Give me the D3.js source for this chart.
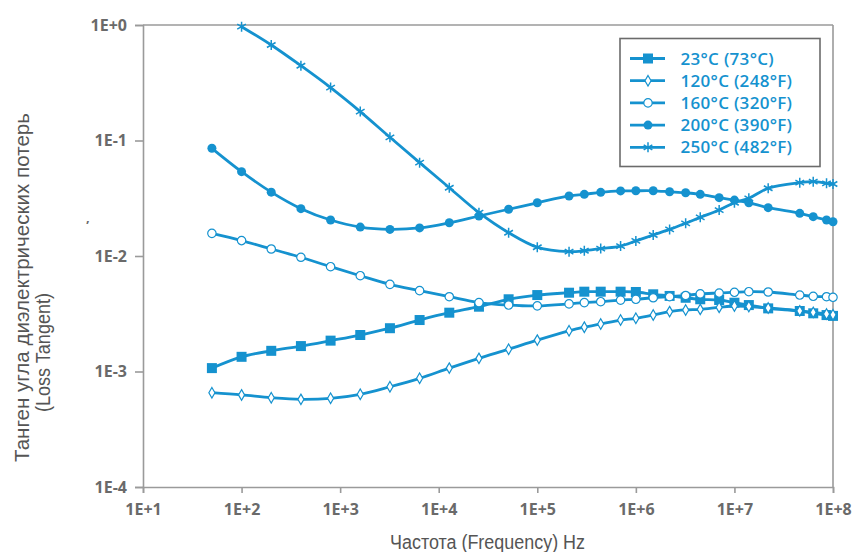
<!DOCTYPE html>
<html>
<head>
<meta charset="utf-8">
<script src="https://cdn.jsdelivr.net/npm/d3@7"></script>
<style>
  body { margin: 0; background: #fff; }
</style>
</head>
<body>
<div id="chart"></div>
<script>
// Frequency grid (Hz) shared by all series
var freq = [50, 100, 200, 400, 800, 1600, 3200, 6400, 12800, 25600, 51200,
    1e5, 2.1e5, 3e5, 4.4e5, 7e5, 1e6, 1.5e6, 2.2e6, 3.2e6, 4.5e6, 7e6,
    1e7, 1.4e7, 2.2e7, 4.6e7, 6.3e7, 8.6e7, 1e8];

// Loss tangent values
var t23 = [0.00107, 0.00134, 0.00151, 0.00166, 0.00185, 0.00207, 0.00237, 0.00279, 0.00323, 0.00364, 0.00422,
    0.00459, 0.00481, 0.00491, 0.00491, 0.00491, 0.00488, 0.00466, 0.00451, 0.00435, 0.00422, 0.00416,
    0.00394, 0.00376, 0.00352, 0.00334, 0.00319, 0.00308, 0.00303];
var t120 = [0.000655, 0.000627, 0.000593, 0.000574, 0.000586, 0.000635, 0.000738, 0.000873, 0.00107, 0.0013, 0.00156,
    0.00187, 0.00225, 0.00242, 0.00258, 0.00279, 0.00289, 0.00308, 0.0033, 0.00341, 0.00345, 0.00359,
    0.00369, 0.00365, 0.00355, 0.00335, 0.00325, 0.00315, 0.0031];
var t160 = [0.0157, 0.0136, 0.0115, 0.00975, 0.00808, 0.00675, 0.00568, 0.00501, 0.00444, 0.00395, 0.00376,
    0.0037, 0.00385, 0.00395, 0.00402, 0.00415, 0.00422, 0.00435, 0.00444, 0.00455, 0.0047, 0.00478,
    0.00485, 0.00491, 0.00488, 0.00459, 0.00448, 0.00444, 0.00439];
var t200 = [0.0856, 0.0537, 0.0357, 0.0257, 0.0205, 0.0178, 0.017, 0.0175, 0.0194, 0.0222, 0.0254,
    0.0289, 0.0331, 0.0342, 0.0356, 0.0366, 0.0367, 0.0367, 0.036, 0.0353, 0.0342, 0.032,
    0.0305, 0.0289, 0.0262, 0.0234, 0.0219, 0.0205, 0.0198];
var t250 = [null, 0.967, 0.671, 0.444, 0.287, 0.178, 0.1066, 0.0643, 0.039, 0.0237, 0.0159,
    0.0119, 0.0109, 0.0111, 0.0116, 0.0122, 0.0135, 0.0152, 0.017, 0.0192, 0.0216, 0.025,
    0.0289, 0.0316, 0.0386, 0.0431, 0.044, 0.0426, 0.042];

var seriesNames = ["23°C (73°C)", "120°C (248°F)", "160°C (320°F)", "200°C (390°F)", "250°C (482°F)"];
var seriesMarkers = ["square", "diamond", "circleOpen", "circle", "asterisk"];

var xTicks = [1e1, 1e2, 1e3, 1e4, 1e5, 1e6, 1e7, 1e8];
var xTickLabels = ["1E+1", "1E+2", "1E+3", "1E+4", "1E+5", "1E+6", "1E+7", "1E+8"];
var yTicks = [1, 1e-1, 1e-2, 1e-3, 1e-4];
var yTickLabels = ["1E+0", "1E-1", "1E-2", "1E-3", "1E-4"];

// Chart size and margins
var svgWidth = 856;
var svgHeight = 552;
var margin = { top: 25, right: 23, bottom: 65, left: 143 };
var width = svgWidth - margin.left - margin.right;
var height = svgHeight - margin.top - margin.bottom;

var blue = "#1592cf";
var axisGrey = "#9a9a9a";
var tickGrey = "#6a6a6a";
var titleGrey = "#555";
var narrowFont = "'Liberation Sans', Arial, sans-serif";

var svg = d3.select("#chart")
    .append("svg")
    .attr("width", svgWidth)
    .attr("height", svgHeight);

var chartGroup = svg.append("g")
    .attr("transform", `translate(${margin.left}, ${margin.top})`);

var xScale = d3.scaleLog().domain([1e1, 1e8]).range([0, width]);
var yScale = d3.scaleLog().domain([1e-4, 1]).range([height, 0]);

// Axes
var bottomAxis = d3.axisBottom(xScale)
    .tickValues(xTicks)
    .tickSize(6)
    .tickPadding(11)
    .tickFormat((d, i) => xTickLabels[i]);
var leftAxis = d3.axisLeft(yScale)
    .tickValues(yTicks)
    .tickSize(8)
    .tickPadding(8)
    .tickFormat((d, i) => yTickLabels[i]);

var xAxisG = chartGroup.append("g")
    .attr("transform", `translate(0, ${height})`)
    .call(bottomAxis);
var yAxisG = chartGroup.append("g")
    .call(leftAxis);

[xAxisG, yAxisG].forEach(function(g) {
    g.select(".domain").attr("stroke", axisGrey).attr("stroke-width", 1.6);
    g.selectAll(".tick line").attr("stroke", axisGrey).attr("stroke-width", 1.6);
    g.selectAll(".tick text")
        .attr("fill", tickGrey)
        .attr("font-family", "'Open Sans', sans-serif")
        .attr("font-weight", 700)
        .attr("font-size", "16px");
});

// Top and right frame lines
chartGroup.append("line")
    .attr("x1", 0).attr("x2", width).attr("y1", 0).attr("y2", 0)
    .attr("stroke", axisGrey).attr("stroke-width", 1.6);
chartGroup.append("line")
    .attr("x1", width).attr("x2", width).attr("y1", 0).attr("y2", height)
    .attr("stroke", axisGrey).attr("stroke-width", 1.6);

// Series
var allSeries = [t23, t120, t160, t200, t250].map(function(vals, i) {
    return {
        name: seriesNames[i],
        marker: seriesMarkers[i],
        points: freq.map((f, j) => ({ f: f, v: vals[j] })).filter(p => p.v != null)
    };
});

var line = d3.line()
    .x(p => xScale(p.f))
    .y(p => yScale(p.v))
    .curve(d3.curveCatmullRom.alpha(0.5));

function drawMarker(sel, type) {
    if (type === "square") {
        sel.append("rect").attr("x", -5).attr("y", -5).attr("width", 10).attr("height", 10)
            .attr("fill", blue);
    } else if (type === "diamond") {
        sel.append("path").attr("d", d3.symbol(d3.symbolDiamond, 32)())
            .attr("fill", "#fff").attr("stroke", blue).attr("stroke-width", 1.2);
    } else if (type === "circleOpen") {
        sel.append("circle").attr("r", 4.2)
            .attr("fill", "#fff").attr("stroke", blue).attr("stroke-width", 1.2);
    } else if (type === "circle") {
        sel.append("circle").attr("r", 4.5).attr("fill", blue);
    } else {
        sel.append("path").attr("d", d3.symbol(d3.symbolAsterisk, 70)())
            .attr("fill", "none").attr("stroke", blue).attr("stroke-width", 1.5);
    }
}

svg.append("clipPath").attr("id", "plotClip")
    .append("rect").attr("x", -6).attr("y", -6).attr("width", width + 12).attr("height", height + 12);

allSeries.forEach(function(s) {
    var g = chartGroup.append("g").attr("clip-path", "url(#plotClip)");
    g.append("path")
        .datum(s.points)
        .attr("d", line)
        .attr("fill", "none")
        .attr("stroke", blue)
        .attr("stroke-width", 2.8);
    g.selectAll(".mk")
        .data(s.points)
        .enter()
        .append("g")
        .attr("transform", p => `translate(${xScale(p.f)}, ${yScale(p.v)})`)
        .each(function() { drawMarker(d3.select(this), s.marker); });
});

// Legend
var legend = svg.append("g").attr("transform", "translate(620, 38.5)");
legend.append("rect")
    .attr("width", 200).attr("height", 128)
    .attr("fill", "#fff").attr("stroke", "#6b6b6b").attr("stroke-width", 1.6);

allSeries.forEach(function(s, i) {
    var row = legend.append("g").attr("transform", `translate(0, ${20 + i * 22.2})`);
    row.append("line").attr("x1", 10).attr("x2", 45).attr("y1", 0).attr("y2", 0)
        .attr("stroke", blue).attr("stroke-width", 2.8);
    var m = row.append("g").attr("transform", "translate(28, 0)");
    drawMarker(m, s.marker);
    row.append("text")
        .attr("x", 60.5).attr("y", 6)
        .attr("fill", blue)
        .attr("font-family", "'Open Sans', sans-serif")
        .attr("font-weight", 600)
        .attr("font-size", "17px")
        .attr("letter-spacing", "0.3px")
        .text(s.name);
});

// Axis titles (condensed look via textLength)
svg.append("text")
    .attr("x", 390).attr("y", 549)
    .attr("fill", titleGrey)
    .attr("font-family", narrowFont)
    .attr("font-size", "19.5px")
    .attr("textLength", 195)
    .attr("lengthAdjust", "spacingAndGlyphs")
    .text("Частота (Frequency) Hz");

svg.append("text")
    .attr("transform", "translate(29, 462) rotate(-90)")
    .attr("fill", titleGrey)
    .attr("font-family", narrowFont)
    .attr("font-size", "19.5px")
    .attr("textLength", 349)
    .attr("lengthAdjust", "spacingAndGlyphs")
    .text("Танген угла диэлектрических потерь");

svg.append("text")
    .attr("transform", "translate(50, 412) rotate(-90)")
    .attr("fill", titleGrey)
    .attr("font-family", narrowFont)
    .attr("font-size", "19.5px")
    .attr("textLength", 119)
    .attr("lengthAdjust", "spacingAndGlyphs")
    .text("(Loss Tangent)");

// Small stray mark left of the axis
svg.append("text")
    .attr("x", 86).attr("y", 222)
    .attr("fill", tickGrey)
    .attr("font-family", "'Open Sans', sans-serif")
    .attr("font-weight", 700)
    .attr("font-size", "13px")
    .text(",");
</script>
</body>
</html>
